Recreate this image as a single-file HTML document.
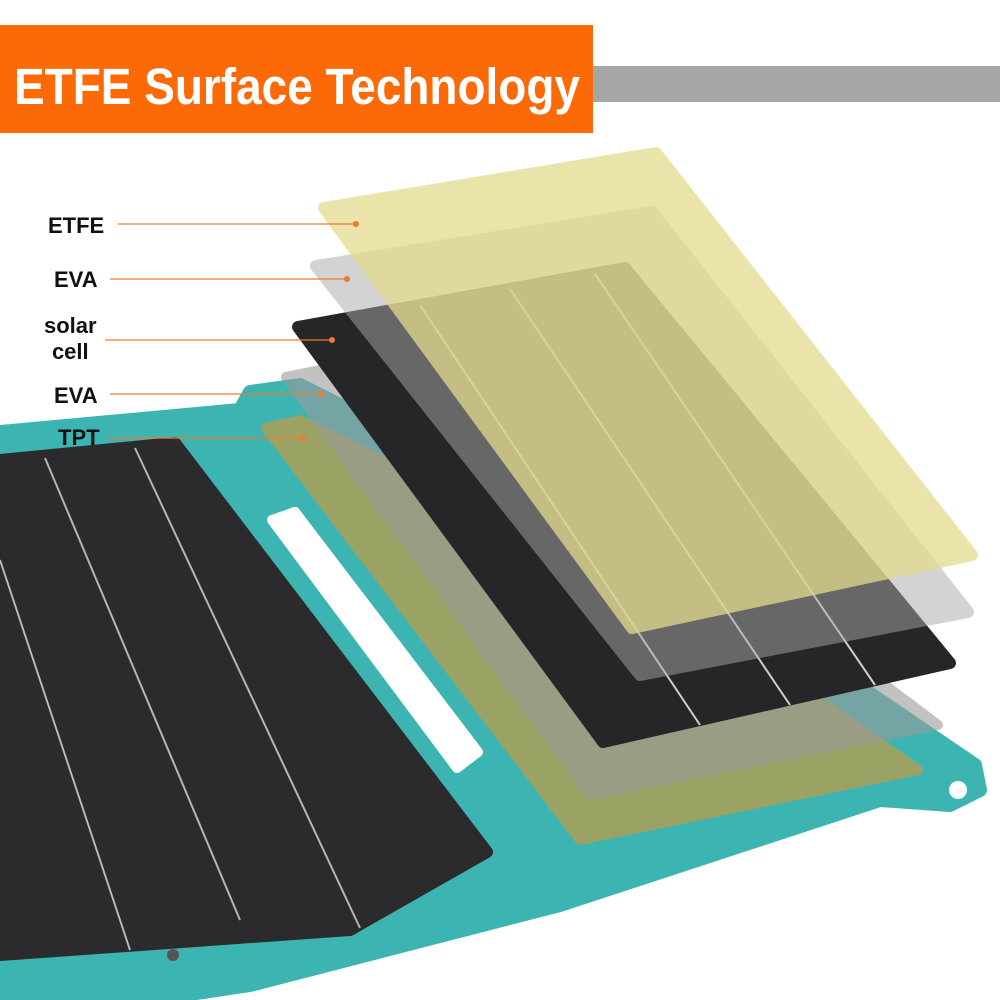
<!DOCTYPE html>
<html><head><meta charset="utf-8"><style>
html,body{margin:0;padding:0;background:#fff;}
.w{position:relative;width:1000px;height:1000px;overflow:hidden;font-family:"Liberation Sans",Arial,sans-serif;}
.lab{position:absolute;font-weight:bold;font-size:22px;color:#111;line-height:26px;}
</style></head><body><div class="w">
<svg width="1000" height="1000" style="position:absolute;left:0;top:0">
<polygon points="0,432 240,410 250,392 300,385 330,400 850,680 975,765 980,790 950,805 880,800 560,905 250,985 150,1000 0,1000" fill="#3cb5b2" stroke="#3cb5b2" stroke-width="14" stroke-linejoin="round"/>
<polygon points="0,460 175,443 487,852 350,930 0,955" fill="#2b2b2d" stroke="#2b2b2d" stroke-width="12" stroke-linejoin="round"/>
<g stroke="#d8d8d8" stroke-width="2" opacity="0.8">
<line x1="45" y1="458" x2="240" y2="920"/>
<line x1="135" y1="448" x2="360" y2="928"/>
<line x1="0" y1="560" x2="130" y2="950"/>
</g>
<polygon points="272,520 295,512 478,752 457,768" fill="#fff" stroke="#fff" stroke-width="10" stroke-linejoin="round"/>
<circle cx="958" cy="790" r="9" fill="#fff"/>
<circle cx="173" cy="955" r="6" fill="#555"/>
<polygon points="266,428 300,420 705,620 918,770 580,840" fill="#a8a05a" opacity="0.88" stroke="#a8a05a" stroke-width="10" stroke-linejoin="round"/>
<polygon points="286,377 320,370 720,560 938,725 590,795" fill="#9a9a9a" opacity="0.6" stroke="#9a9a9a" stroke-width="10" stroke-linejoin="round"/>
<polygon points="298,327 625,268 950,663 603,742" fill="#262628" stroke="#262628" stroke-width="12" stroke-linejoin="round"/>
<g stroke="#cfcfcf" stroke-width="2">
<line x1="420" y1="305" x2="700" y2="725"/>
<line x1="510" y1="289" x2="790" y2="705"/>
<line x1="595" y1="274" x2="875" y2="685"/>
</g>
<polygon points="316,266 652,212 968,612 640,675" fill="#a8a8a8" opacity="0.5" stroke="#a8a8a8" stroke-width="12" stroke-linejoin="round"/>
<polygon points="324,208 656,153 972,555 632,628" fill="#e3dc8e" opacity="0.75" stroke="#e3dc8e" stroke-width="12" stroke-linejoin="round"/>
<g stroke="#f07a30" stroke-width="1.3" fill="none">
<line x1="118" y1="224" x2="356" y2="224"/>
<line x1="110" y1="279" x2="347" y2="279"/>
<line x1="105" y1="340" x2="332" y2="340"/>
<line x1="110" y1="394" x2="321" y2="394"/>
<line x1="108" y1="438" x2="303" y2="438"/>
</g>
<g fill="#f07a30"><circle cx="356" cy="224" r="3"/><circle cx="347" cy="279" r="3"/><circle cx="332" cy="340" r="3"/><circle cx="321" cy="394" r="3"/><circle cx="303" cy="438" r="3"/></g>
<rect x="0" y="25" width="593" height="108" fill="#fb6a06"/>
<rect x="593" y="66" width="407" height="36" fill="#a6a6a6"/>
<text x="14" y="104" fill="#fff" font-family="Liberation Sans, Arial, sans-serif" font-weight="bold" font-size="51" textLength="566" lengthAdjust="spacingAndGlyphs">ETFE Surface Technology</text>
</svg>
<div class="lab" style="left:48px;top:213px">ETFE</div>
<div class="lab" style="left:54px;top:267px">EVA</div>
<div class="lab" style="left:44px;top:313px;text-align:center">solar<br>cell</div>
<div class="lab" style="left:54px;top:383px">EVA</div>
<div class="lab" style="left:58px;top:425px">TPT</div>
</div></body></html>
